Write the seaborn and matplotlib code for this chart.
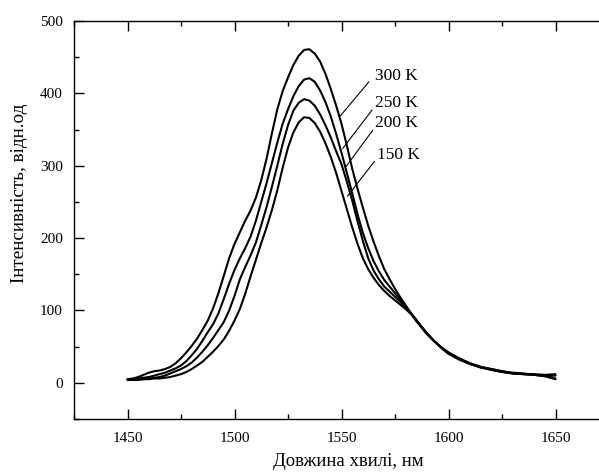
import numpy as np
import pandas as pd
import matplotlib
matplotlib.use("Agg")
import matplotlib.pyplot as plt
import seaborn as sns
from matplotlib.ticker import MultipleLocator

# ---- data ----
wavelength = [1450, 1452.5, 1455, 1457.5, 1460, 1462.5, 1465, 1467.5, 1470, 1472.5,
              1475, 1477.5, 1480, 1482.5, 1485, 1487.5, 1490, 1492.5, 1495, 1497.5,
              1500, 1502.5, 1505, 1507.5, 1510, 1512.5, 1515, 1517.5, 1520, 1522.5,
              1525, 1527.5, 1530, 1532.5, 1535, 1537.5, 1540, 1542.5, 1545, 1547.5,
              1550, 1552.5, 1555, 1557.5, 1560, 1562.5, 1565, 1567.5, 1570, 1572.5,
              1575, 1577.5, 1580, 1582.5, 1585, 1587.5, 1590, 1592.5, 1595, 1597.5,
              1600, 1605, 1610, 1615, 1620, 1625, 1630, 1635, 1640, 1645, 1650]

i_300 = [5, 6, 8, 11, 14, 16, 17, 19, 22, 27,
         34, 42, 51, 61, 73, 86, 103, 124, 148, 172,
         192, 208, 224, 238, 256, 280, 310, 345, 378, 403,
         422, 439, 452, 460, 461, 455, 444, 427, 406, 383,
         358, 328, 296, 268, 242, 217, 195, 175, 157, 143,
         130, 118, 107, 96, 85, 76, 67, 60, 53, 47,
         42, 34, 27, 22, 19, 16, 14, 13, 11, 9, 5]

i_250 = [5, 5, 6, 7, 8, 10, 12, 14, 17, 20,
         24, 30, 38, 47, 58, 70, 81, 96, 116, 137,
         156, 172, 186, 202, 224, 250, 276, 304, 332, 358,
         378, 396, 410, 419, 421, 416, 404, 388, 368, 344,
         318, 290, 262, 233, 207, 186, 168, 154, 142, 133,
         124, 115, 106, 96, 86, 77, 68, 60, 53, 47,
         42, 33, 27, 22, 19, 16, 13, 12, 11, 10, 6]

i_200 = [4, 4, 5, 5, 6, 7, 8, 10, 13, 16,
         19, 23, 28, 35, 43, 52, 62, 73, 84, 100,
         120, 143, 160, 176, 194, 218, 243, 271, 300, 330,
         356, 376, 387, 392, 390, 383, 371, 356, 339, 320,
         302, 278, 252, 223, 196, 172, 155, 143, 133, 126,
         119, 112, 104, 96, 87, 77, 68, 60, 53, 47,
         41, 33, 26, 22, 18, 15, 13, 12, 11, 10, 10]

i_150 = [4, 4, 4, 5, 5, 6, 6, 7, 8, 10,
         12, 15, 19, 24, 29, 36, 43, 51, 60, 72,
         86, 102, 123, 147, 170, 193, 215, 239, 266, 297,
         325, 346, 360, 367, 366, 359, 347, 331, 312, 290,
         265, 240, 215, 192, 172, 157, 145, 135, 127, 120,
         114, 108, 102, 95, 86, 77, 68, 60, 53, 46,
         40, 32, 26, 21, 18, 15, 13, 12, 12, 11, 12]

temperatures = ["300 K", "250 K", "200 K", "150 K"]

# annotation labels: text anchor (wavelength, intensity) and leader line end points
label_x = [1565.6, 1565.6, 1565.6, 1566.6]
label_y = [424, 387, 359, 315]
leader_x0 = [1562.8, 1564.3, 1564.6, 1565.4]
leader_y0 = [416, 377, 349, 306]
leader_x1 = [1549.5, 1550.6, 1551.9, 1552.8]
leader_y1 = [369, 324, 298, 258]

x_ticks = [1450, 1500, 1550, 1600, 1650]
y_ticks = [0, 100, 200, 300, 400, 500]

# ---- build long table ----
series = [i_300, i_250, i_200, i_150]
frames = []
for t, vals in zip(temperatures, series):
    frames.append(pd.DataFrame({"wl": wavelength, "I": vals, "T": t}))
df = pd.concat(frames, ignore_index=True)

sns.set_theme(style="ticks")
plt.rcParams["font.family"] = ["Liberation Serif", "DejaVu Serif"]
plt.rcParams["axes.linewidth"] = 1.0

fig = plt.figure(figsize=(5.99, 4.74), dpi=100)
ax = fig.add_axes([74 / 599, 1 - 419 / 474, (609 - 74) / 599, (419 - 21) / 474])

sns.lineplot(data=df, x="wl", y="I", hue="T", palette=["black"] * 4,
             legend=False, ax=ax, linewidth=1.5, sort=True, estimator=None)

ax.set_xlim(1425, 1675)
ax.set_ylim(-50, 500)
ax.set_xticks(x_ticks)
ax.set_yticks(y_ticks)
ax.xaxis.set_minor_locator(MultipleLocator(25))
ax.yaxis.set_minor_locator(MultipleLocator(50))
ax.tick_params(which="both", direction="in", top=True, right=True,
               colors="black", labelsize=11, width=1.0)
ax.tick_params(which="major", length=7)
ax.tick_params(which="minor", length=3.5)
ax.tick_params(axis="x", which="major", pad=9)
ax.tick_params(axis="y", which="major", pad=8)
for s in ax.spines.values():
    s.set_color("black")

ax.set_xlabel("Довжина хвилі, нм", fontsize=13.5, color="black")
ax.set_ylabel("Інтенсивність, відн.од", fontsize=13.8, color="black")
ax.xaxis.set_label_coords(0.512, -0.086)
ax.yaxis.set_label_coords(-0.086, 0.568)

for t, tx, ty, x0, y0, x1, y1 in zip(temperatures, label_x, label_y,
                                      leader_x0, leader_y0, leader_x1, leader_y1):
    ax.plot([x0, x1], [y0, y1], color="black", linewidth=0.8)
    ax.text(tx, ty, t, fontsize=12.5, ha="left", va="center", color="black")

fig.savefig("out.png", dpi=100)
